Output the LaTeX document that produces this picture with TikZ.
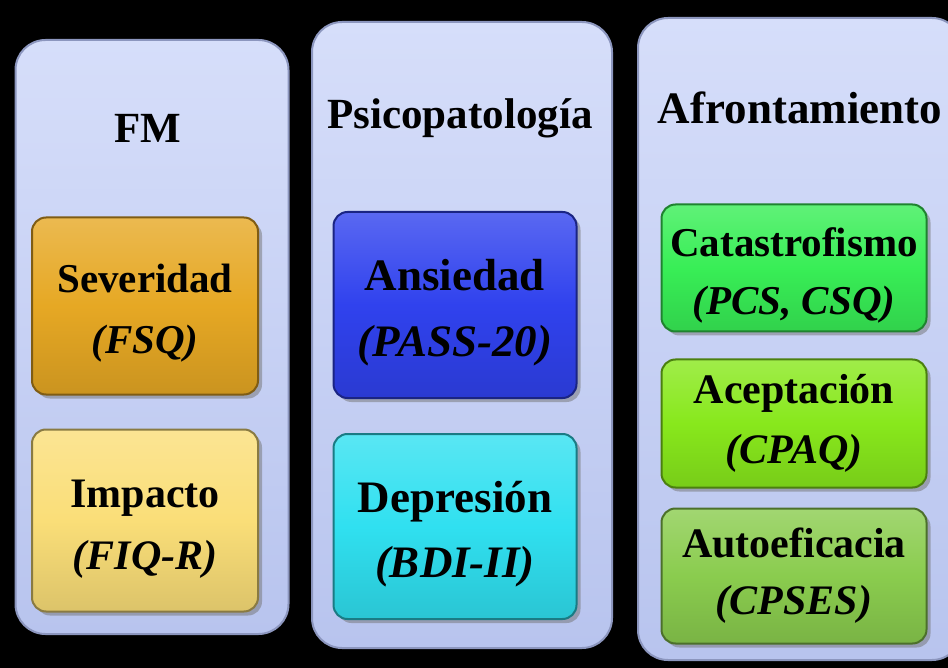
\documentclass[tikz,border=0pt]{standalone}
\usepackage{fontspec}
\setmainfont{Liberation Serif}
\usetikzlibrary{positioning,shadows}

\definecolor{panelTop}{RGB}{214,222,250}
\definecolor{panelBot}{RGB}{184,196,238}
\definecolor{panelEdge}{RGB}{140,150,190}
\definecolor{sevCol}{RGB}{230,168,36}
\definecolor{impCol}{RGB}{250,222,120}
\definecolor{ansCol}{RGB}{48,66,238}
\definecolor{depCol}{RGB}{48,224,240}
\definecolor{catCol}{RGB}{56,238,86}
\definecolor{aceCol}{RGB}{136,232,28}
\definecolor{autCol}{RGB}{138,204,78}

\newcommand{\boxfont}[2]{\bfseries\fontsize{#1}{#2}\selectfont}
\newcommand{\toppad}{\rule{0pt}{1.05em}}

\begin{document}
\begin{tikzpicture}[x=1pt,y=-1pt,
    panel/.style={rounded corners=30pt,draw=panelEdge,line width=2pt,
      top color=panelTop,bottom color=panelBot},
    header/.style={font=\boxfont{43}{50}},
    measure/.style={rounded corners=14pt,draw=#1!55!black,line width=2pt,
      top color=#1!80!white,bottom color=#1!88!black,middle color=#1,
      align=center,font=\boxfont{41}{61},
      drop shadow={shadow xshift=4pt,shadow yshift=-4pt,fill=black!55}}]
  % background and page size
  \fill[black] (0,0) rectangle (948,668);
  \useasboundingbox (0,0) rectangle (948,668);

  % the three columns
  \node[panel,minimum width=273pt,minimum height=594pt] (colFM) at (152,337) {};
  \node[panel,minimum width=300pt,minimum height=626pt] (colPsi) at (462,335) {};
  \node[panel,minimum width=324pt,minimum height=642pt] (colAfr) at (800,339) {};

  % headers
  \node[header] (hFM) at (148,128) {FM};
  \node[header] (hPsi) at (460,118) {Psicopatología};
  \node[header,font=\boxfont{45}{50}] (hAfr) at (800,108) {Afrontamiento};

  % FM
  \node[measure=sevCol,minimum width=226pt,minimum height=177pt] (sev) at (145,306)
    {\toppad Severidad\\\textit{(FSQ)}};
  \node[measure=impCol,minimum width=226pt,minimum height=182pt,below=33pt of sev,
    font=\boxfont{42}{62}] (imp)
    {\toppad Impacto\\\textit{(FIQ-R)}};

  % Psicopatologia
  \node[measure=ansCol,minimum width=243pt,minimum height=186pt,
    font=\boxfont{45}{66}] (ans) at (455,305)
    {\toppad Ansiedad\\\textit{(PASS-20)}};
  \node[measure=depCol,minimum width=243pt,minimum height=185pt,below=34pt of ans,
    font=\boxfont{45}{65}] (dep)
    {\toppad Depresión\\\textit{(BDI-II)}};

  % Afrontamiento
  \node[measure=catCol,minimum width=265pt,minimum height=127pt,
    font=\boxfont{41}{58}] (cat) at (794,268)
    {\toppad Catastrofismo\\\textit{(PCS, CSQ)}};
  \node[measure=aceCol,minimum width=265pt,minimum height=128pt,below=26pt of cat,
    font=\boxfont{42}{60}] (ace)
    {Aceptación\\\textit{(CPAQ)}};
  \node[measure=autCol,minimum width=265pt,minimum height=135pt,below=19pt of ace,
    font=\boxfont{42}{57}] (aut)
    {Autoeficacia\\\textit{(CPSES)}};
\end{tikzpicture}
\end{document}
